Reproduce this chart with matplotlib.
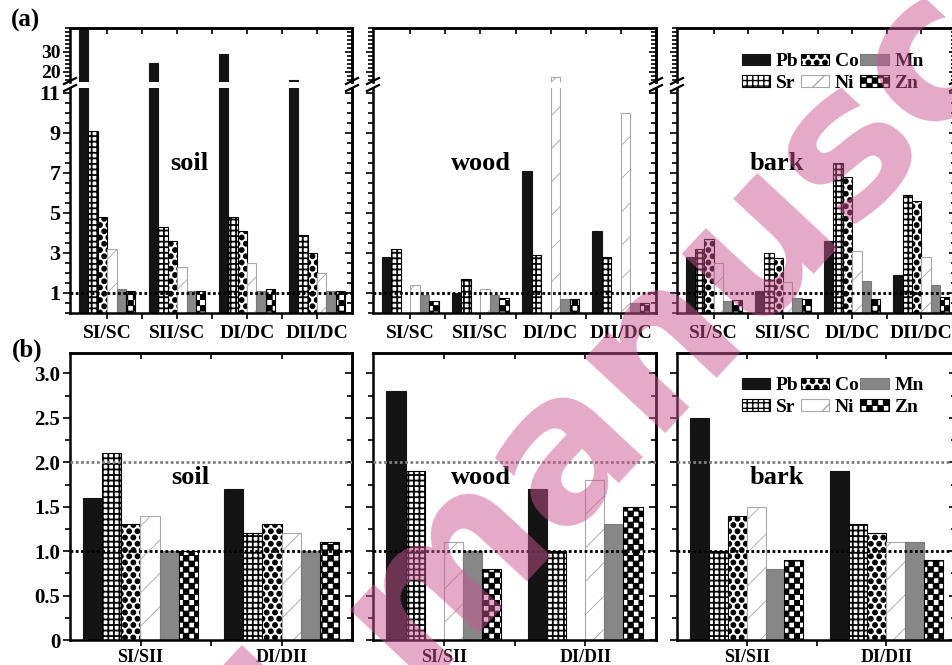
import numpy as np
import matplotlib
matplotlib.use('Agg')
import matplotlib.pyplot as plt
import matplotlib.hatch as mhatch
from matplotlib.path import Path
from matplotlib.lines import Line2D
from matplotlib.ticker import FixedLocator, MultipleLocator, FuncFormatter

# ---- data ----
elements = ['Pb', 'Sr', 'Co', 'Ni', 'Mn', 'Zn']
groups_a = ['SI/SC', 'SII/SC', 'DI/DC', 'DII/DC']
groups_b = ['SI/SII', 'DI/DII']
samples = ['soil', 'wood', 'bark']
nan = np.nan

# (a) rows = Pb, Sr, Co, Ni, Mn, Zn ; columns = groups_a
soil_a = [[45, 24.5, 29, 16],
          [9.1, 4.3, 4.8, 3.9],
          [4.8, 3.6, 4.1, 3.0],
          [3.2, 2.3, 2.5, 2.0],
          [1.2, 1.1, 1.1, 1.1],
          [1.1, 1.1, 1.2, 1.1]]
wood_a = [[2.8, 1.0, 7.1, 4.1],
          [3.2, 1.7, 2.9, 2.8],
          [nan, nan, nan, nan],
          [1.4, 1.2, 17.5, 10.0],
          [0.9, 0.9, 0.7, 0.5],
          [0.6, 0.75, 0.7, 0.5]]
bark_a = [[2.8, 1.1, 3.6, 1.9],
          [3.2, 3.0, 7.5, 5.9],
          [3.7, 2.75, 6.8, 5.6],
          [2.5, 1.55, 3.1, 2.8],
          [0.6, 0.75, 1.6, 1.4],
          [0.65, 0.7, 0.7, 0.8]]

# (b) rows = Pb, Sr, Co, Ni, Mn, Zn ; columns = groups_b
soil_b = [[1.6, 1.7], [2.1, 1.2], [1.3, 1.3], [1.4, 1.2], [1.0, 1.0], [1.0, 1.1]]
wood_b = [[2.8, 1.7], [1.9, 1.0], [nan, nan], [1.1, 1.8], [1.0, 1.3], [0.8, 1.5]]
bark_b = [[2.5, 1.9], [1.0, 1.3], [1.4, 1.2], [1.5, 1.1], [0.8, 1.1], [0.9, 0.9]]


# ---- custom hatches: big filled dots ('.') and checkerboard ('*') ----
class DotHatch(mhatch.HatchPatternBase):
    def __init__(self, hatch, density):
        self.cols = hatch.count('.') * density
        self.rows = int(round(self.cols * 4 / 3 / 2)) * 2
        circ = Path.unit_circle()
        self.cv, self.cc = circ.vertices, circ.codes
        if self.cols:
            n = sum(self.cols + 1 if j % 2 == 0 else self.cols for j in range(self.rows + 1))
            self.num_vertices = n * len(self.cv)
        else:
            self.num_vertices = 0

    def set_vertices_and_codes(self, vertices, codes):
        r = 0.022 * 12 / self.cols
        parts = []
        for j in range(self.rows + 1):
            if j % 2 == 0:
                xs = np.arange(self.cols + 1) / self.cols
            else:
                xs = (np.arange(self.cols) + 0.5) / self.cols
            for x in xs:
                parts.append(self.cv * r + [x, j / self.rows])
        vertices[:] = np.concatenate(parts)
        codes[:] = np.tile(self.cc, len(parts))


class CheckerHatch(mhatch.HatchPatternBase):
    def __init__(self, hatch, density):
        self.n = hatch.count('*') * density
        self.num_vertices = (self.n * self.n // 2) * 5 if self.n else 0

    def set_vertices_and_codes(self, vertices, codes):
        s = 1.0 / self.n
        sq = np.array([[0, 0], [s, 0], [s, s], [0, s], [0, 0]]) * 0.92 + s * 0.04
        parts = []
        for i in range(self.n):
            for j in range(self.n):
                if (i + j) % 2 == 0:
                    parts.append(sq + [i * s, j * s])
        vertices[:] = np.concatenate(parts)
        codes[:] = np.tile([Path.MOVETO, Path.LINETO, Path.LINETO,
                            Path.LINETO, Path.CLOSEPOLY], len(parts))


mhatch._hatch_types[mhatch._hatch_types.index(mhatch.SmallFilledCircles)] = DotHatch
mhatch._hatch_types[mhatch._hatch_types.index(mhatch.Stars)] = CheckerHatch

plt.rcParams['font.family'] = ['Liberation Serif', 'DejaVu Serif']
plt.rcParams['font.weight'] = 'bold'
plt.rcParams['axes.linewidth'] = 1.8
plt.rcParams['hatch.linewidth'] = 1.0

bar_styles = {
    'Pb': dict(color='#141414', edgecolor='#141414'),
    'Sr': dict(color='white', edgecolor='black', hatch='+++'),
    'Co': dict(color='white', edgecolor='black', hatch='..'),
    'Ni': dict(color='white', edgecolor='#a8a8a8', hatch='/'),
    'Mn': dict(color='#878787', edgecolor='#7a7a7a'),
    'Zn': dict(color='white', edgecolor='black', hatch='***'),
}
hatch_lw = {'Pb': 1.0, 'Sr': 1.3, 'Co': 1.0, 'Ni': 0.6, 'Mn': 1.0, 'Zn': 1.0}

W, H = 952, 665
fig = plt.figure(figsize=(W / 100, H / 100), dpi=100)


def px_box(x0, x1, y0, y1):
    return [x0 / W, 1 - y1 / H, (x1 - x0) / W, (y1 - y0) / H]


bar_w = 0.135


def draw_bars(ax, data, n_groups):
    pos = np.arange(1, n_groups + 1)
    for k, (el, vals) in enumerate(zip(elements, data)):
        plt.rcParams['hatch.linewidth'] = hatch_lw[el]
        bars = ax.bar(pos + (k - 2.5) * bar_w, vals, bar_w, label=el,
                      linewidth=0.8, zorder=2, **bar_styles[el])
        for b in bars:
            if hasattr(b, 'set_hatch_linewidth'):
                b.set_hatch_linewidth(hatch_lw[el])
    plt.rcParams['hatch.linewidth'] = 1.0


def setup_ticks(ax, ymaj, ystep, xmaj, xmin, bottom, top, ylab, ysize, xsize=14, xpad=4):
    ax.yaxis.set_major_locator(FixedLocator(ymaj))
    ax.yaxis.set_minor_locator(MultipleLocator(ystep))
    ax.xaxis.set_major_locator(FixedLocator(xmaj))
    ax.xaxis.set_minor_locator(FixedLocator(xmin))
    ax.tick_params(axis='y', which='both', direction='out', left=True, right=False,
                   labelleft=ylab, labelsize=ysize, width=1.2, pad=2)
    ax.tick_params(axis='y', which='major', length=5)
    ax.tick_params(axis='y', which='minor', length=3.5)
    ax.tick_params(axis='x', which='both', direction='out', bottom=bottom, top=False,
                   labelbottom=bottom, length=4.5, width=1.2, labelsize=xsize, pad=xpad)
    sy = ax.secondary_yaxis('right')
    sy.yaxis.set_major_locator(FixedLocator(ymaj))
    sy.yaxis.set_minor_locator(MultipleLocator(ystep))
    sy.tick_params(axis='y', which='both', direction='in', labelright=False, width=1.2)
    sy.tick_params(axis='y', which='major', length=5)
    sy.tick_params(axis='y', which='minor', length=3.5)
    if top:
        sx = ax.secondary_xaxis('top')
        sx.xaxis.set_major_locator(FixedLocator(xmaj))
        sx.xaxis.set_minor_locator(FixedLocator(xmin))
        sx.tick_params(axis='x', which='both', direction='in', labeltop=False,
                       length=4.5, width=1.2)


panel_x = [(70, 352), (373, 656), (677, 956)]
dot_ls = (0, (1, 0.9))

# ---- row (a): broken y axis ----
handles = None
for i, data in enumerate([soil_a, wood_a, bark_a]):
    x0, x1 = panel_x[i]
    ax_t = fig.add_axes(px_box(x0, x1, 28, 82))
    ax_b = fig.add_axes(px_box(x0, x1, 88, 313))
    for ax in (ax_t, ax_b):
        draw_bars(ax, data, len(groups_a))
        ax.set_xlim(0.47, 4.5)
    ax_t.set_ylim(15, 42)
    ax_b.set_ylim(0, 11.25)
    ax_t.spines['bottom'].set_visible(False)
    ax_b.spines['top'].set_visible(False)
    ax_b.axhline(1, color='black', lw=2.0, ls=dot_ls, zorder=3)
    xmaj = [1, 2, 3, 4]
    xmin = [1.5, 2.5, 3.5]
    setup_ticks(ax_t, [20, 30], 2, xmaj, xmin, False, True, i == 0, 14)
    setup_ticks(ax_b, [1, 3, 5, 7, 9, 11], 0.5, xmaj, xmin, True, False, i == 0, 16)
    ax_b.set_xticks(xmaj, groups_a)
    fig.text([189, 481, 777][i] / W, 1 - 163 / H, samples[i], ha='center',
             va='center', fontsize=19)
    if i == 0:
        handles = ax_b.get_legend_handles_labels()
    # break marks
    for xs in (x0, x1):
        for yb in (81, 88):
            fig.add_artist(Line2D([(xs - 6) / W, (xs + 6) / W],
                                  [1 - (yb + 3) / H, 1 - (yb - 3) / H],
                                  color='black', lw=1.6))

# ---- row (b) ----
for i, data in enumerate([soil_b, wood_b, bark_b]):
    x0, x1 = panel_x[i]
    ax = fig.add_axes(px_box(x0, x1, 353, 640))
    draw_bars(ax, data, len(groups_b))
    ax.set_xlim(0.5, 2.5)
    ax.set_ylim(0, 3.23)
    ax.axhline(2.0, color='#808080', lw=2.0, ls=dot_ls, zorder=3)
    ax.axhline(1.0, color='black', lw=2.0, ls=dot_ls, zorder=3)
    setup_ticks(ax, [0, 0.5, 1.0, 1.5, 2.0, 2.5, 3.0], 0.25, [1, 2], [1.5],
                True, True, i == 0, 15, xsize=13, xpad=2)
    ax.yaxis.set_major_formatter(FuncFormatter(lambda v, _: '0' if v == 0 else f'{v:.1f}'))
    ax.set_xticks([1, 2], groups_b)
    fig.text([190, 481, 777][i] / W, 1 - 478 / H, samples[i], ha='center',
             va='center', fontsize=19)

leg_kw = dict(ncol=3, frameon=False, fontsize=14, handlelength=1.45, handleheight=0.5,
              handletextpad=0.3, columnspacing=0.1, labelspacing=0.25,
              borderpad=0, borderaxespad=0, loc='upper left')
fig.legend(*handles, bbox_to_anchor=(742 / W, 1 - 53 / H), **leg_kw)
fig.legend(*handles, bbox_to_anchor=(742 / W, 1 - 377 / H), **leg_kw)

fig.text(25 / W, 1 - 20 / H, '(a)', ha='center', va='center', fontsize=18)
fig.text(27 / W, 1 - 350 / H, '(b)', ha='center', va='center', fontsize=18)

# watermark
wm = dict(rotation=47, rotation_mode='anchor', va='baseline', fontsize=145,
          fontfamily='DejaVu Sans', fontweight='bold', color='#c95591', alpha=0.5, zorder=10)
fig.text(414 / W, 1 - 685 / H, 'manuscript', ha='left', **wm)
fig.text(366 / W, 1 - 736 / H, 'Accepted', ha='right', **wm)

fig.savefig('out.png', dpi=100)
